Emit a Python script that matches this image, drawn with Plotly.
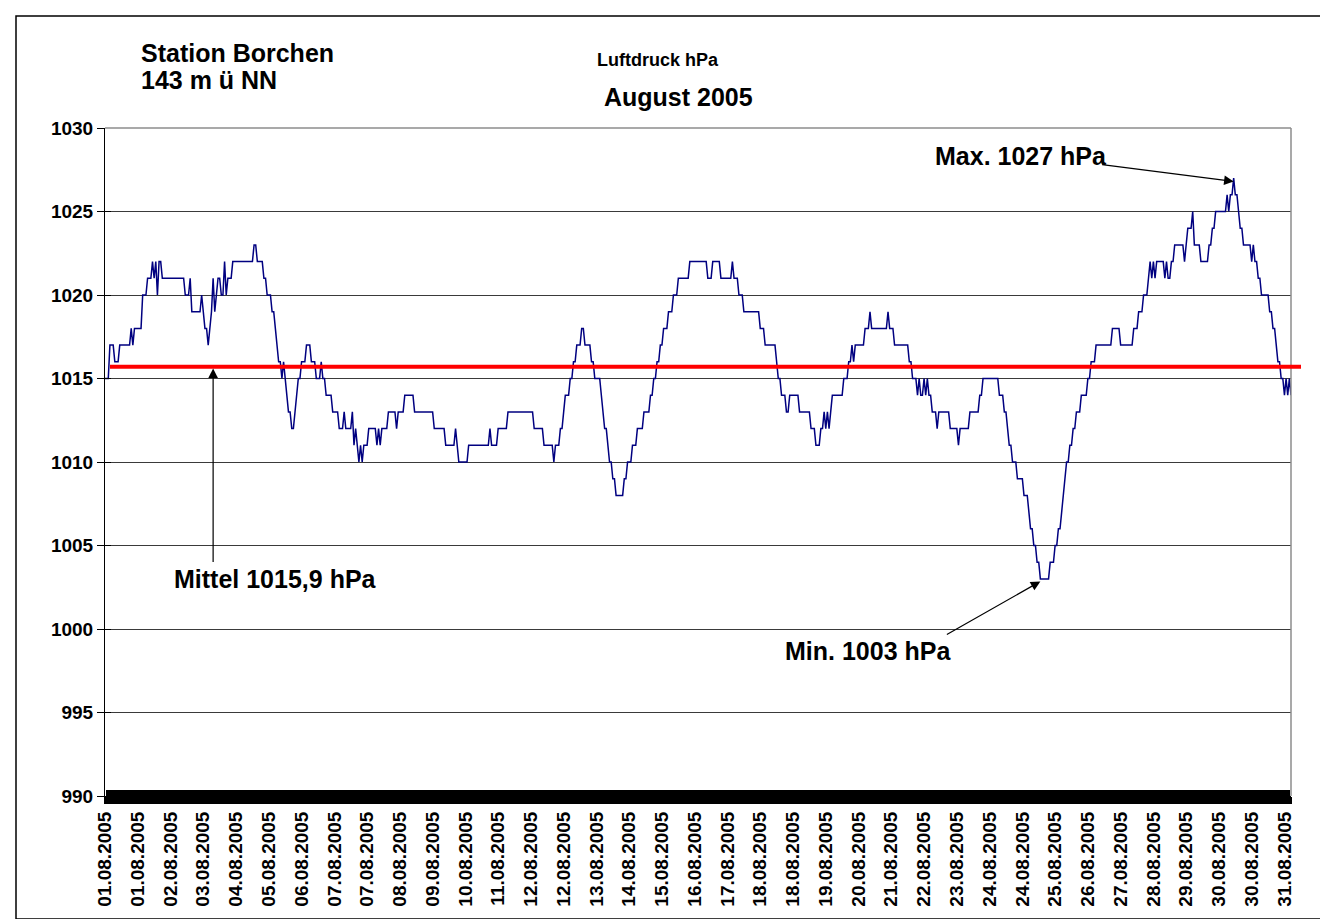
import numpy as np
import plotly.graph_objects as go

# ---------------- data ----------------
n_points = 725  # number of readings (categories)

# pressure readings, stored as change points: reading index where a new level starts, and that level (hPa)
change_idx = [0, 3, 6, 9, 16, 17, 18, 23, 26, 29, 30, 31, 32, 33, 35, 49, 52, 53, 59, 60,
              61, 63, 64, 65, 66, 67, 68, 69, 71, 73, 74, 75, 78, 91, 93, 97, 99, 102, 104, 105,
              106, 108, 109, 110, 111, 112, 114, 116, 117, 118, 120, 123, 126, 129, 132, 133, 135, 139, 143, 146,
              147, 151, 152, 153, 154, 155, 156, 157, 158, 161, 166, 167, 168, 169, 173, 178, 179, 183, 189, 201,
              208, 214, 215, 216, 222, 235, 236, 240, 246, 262, 268, 274, 275, 278, 280, 281, 284, 286, 288, 291,
              293, 297, 299, 303, 304, 305, 307, 308, 310, 312, 317, 319, 322, 325, 329, 333, 335, 337, 339, 341,
              344, 347, 350, 357, 368, 371, 376, 383, 384, 387, 390, 400, 403, 410, 411, 413, 416, 418, 424, 431,
              434, 437, 439, 440, 441, 442, 443, 444, 451, 454, 456, 457, 458, 464, 467, 468, 478, 479, 482, 491,
              493, 496, 497, 498, 500, 501, 502, 503, 505, 508, 509, 516, 521, 522, 528, 534, 536, 546, 549, 551,
              552, 554, 557, 561, 564, 565, 567, 569, 571, 577, 580, 582, 584, 585, 586, 587, 589, 591, 593, 596,
              600, 602, 605, 615, 620, 628, 631, 634, 637, 638, 639, 640, 641, 642, 647, 648, 649, 651, 653, 659,
              660, 661, 664, 665, 669, 674, 676, 678, 685, 686, 687, 689, 690, 692, 693, 695, 700, 701, 702, 704,
              706, 711, 713, 715, 716, 718, 720, 721, 722, 723, 724]
change_val = [1015, 1017, 1016, 1017, 1018, 1017, 1018, 1020, 1021, 1022, 1021, 1022, 1020, 1022, 1021, 1020, 1021, 1019, 1020, 1019,
              1018, 1017, 1018, 1019, 1021, 1019, 1020, 1021, 1020, 1022, 1020, 1021, 1022, 1023, 1022, 1021, 1020, 1019, 1018, 1017,
              1016, 1015, 1016, 1015, 1014, 1013, 1012, 1013, 1014, 1015, 1016, 1017, 1016, 1015, 1016, 1015, 1014, 1013, 1012, 1013,
              1012, 1013, 1011, 1012, 1011, 1010, 1011, 1010, 1011, 1012, 1011, 1012, 1011, 1012, 1013, 1012, 1013, 1014, 1013, 1012,
              1011, 1012, 1011, 1010, 1011, 1012, 1011, 1012, 1013, 1012, 1011, 1010, 1011, 1012, 1013, 1014, 1015, 1016, 1017, 1018,
              1017, 1016, 1015, 1014, 1013, 1012, 1011, 1010, 1009, 1008, 1009, 1010, 1011, 1012, 1013, 1014, 1015, 1016, 1017, 1018,
              1019, 1020, 1021, 1022, 1021, 1022, 1021, 1022, 1021, 1020, 1019, 1018, 1017, 1016, 1015, 1014, 1013, 1014, 1013, 1012,
              1011, 1012, 1013, 1012, 1013, 1012, 1013, 1014, 1015, 1016, 1017, 1016, 1017, 1018, 1019, 1018, 1019, 1018, 1017, 1016,
              1015, 1014, 1015, 1014, 1015, 1014, 1015, 1014, 1013, 1012, 1013, 1012, 1011, 1012, 1013, 1014, 1015, 1014, 1013, 1012,
              1011, 1010, 1009, 1008, 1007, 1006, 1005, 1004, 1003, 1004, 1005, 1006, 1007, 1008, 1009, 1010, 1011, 1012, 1013, 1014,
              1015, 1016, 1017, 1018, 1017, 1018, 1019, 1020, 1021, 1022, 1021, 1022, 1021, 1022, 1021, 1022, 1021, 1022, 1023, 1022,
              1023, 1024, 1025, 1023, 1022, 1023, 1024, 1025, 1026, 1025, 1026, 1027, 1026, 1025, 1024, 1023, 1022, 1023, 1022, 1021,
              1020, 1019, 1018, 1017, 1016, 1015, 1014, 1015, 1014, 1015, 1014]

label_step = 20
date_labels = ["01.08.2005", "01.08.2005", "02.08.2005", "03.08.2005", "04.08.2005", "05.08.2005",
               "06.08.2005", "07.08.2005", "07.08.2005", "08.08.2005", "09.08.2005", "10.08.2005",
               "11.08.2005", "12.08.2005", "12.08.2005", "13.08.2005", "14.08.2005", "15.08.2005",
               "16.08.2005", "17.08.2005", "18.08.2005", "18.08.2005", "19.08.2005", "20.08.2005",
               "21.08.2005", "22.08.2005", "23.08.2005", "24.08.2005", "24.08.2005", "25.08.2005",
               "26.08.2005", "27.08.2005", "28.08.2005", "29.08.2005", "30.08.2005", "30.08.2005",
               "31.08.2005"]

y_ticks = [990, 995, 1000, 1005, 1010, 1015, 1020, 1025, 1030]
mean_line_value = 1015.7      # where the red mean line is drawn
mean_text = "Mittel 1015,9 hPa"
mean_arrow_idx = 66           # reading index at which the mean arrow points

# ---------------- expand readings ----------------
values = np.empty(n_points)
bounds = change_idx + [n_points]
for k, v in enumerate(change_val):
    values[bounds[k]:bounds[k + 1]] = v
idx = np.arange(n_points)
i_max = int(np.argmax(values))
i_min = int(np.argmin(values))

# ---------------- layout helpers ----------------
W, H = 1328, 919
L, R, T, B = 97, 45, 120, 131
PW, PH = W - L - R, H - T - B

def px(x):
    return (x - L) / PW

def py(y):
    return (H - B - y) / PH

FONT = "Liberation Sans"

fig = go.Figure()
fig.add_trace(go.Scatter(x=idx, y=values, mode="lines",
                         line=dict(color="#000080", width=1.5),
                         showlegend=False, hoverinfo="skip"))
# empty trace to activate overlay axes (for crossing tick marks)
fig.add_trace(go.Scatter(x=[None], y=[None], xaxis="x2", yaxis="y2",
                         showlegend=False, hoverinfo="skip"))

tickfont = dict(family=FONT, size=19, color="black", weight="bold")

fig.update_layout(
    width=W, height=H,
    margin=dict(l=L, r=R, t=T, b=B, pad=0),
    paper_bgcolor="white", plot_bgcolor="white",
    showlegend=False,
    xaxis=dict(range=[0, n_points - 1], tickmode="array",
               tickvals=[k * label_step for k in range(len(date_labels))],
               ticktext=date_labels, tickangle=-90, tickfont=tickfont,
               showgrid=False, zeroline=False,
               showline=True, linecolor="black", linewidth=1,
               ticks="outside", ticklen=7, tickwidth=2, tickcolor="black",
               minor=dict(tickmode="linear", tick0=0, dtick=1, ticks="outside",
                          ticklen=7, tickwidth=2, tickcolor="black", showgrid=False)),
    xaxis2=dict(range=[0, n_points - 1], overlaying="x", side="bottom",
                showticklabels=False, showgrid=False, zeroline=False, showline=False,
                tickmode="linear", tick0=0, dtick=1, ticks="inside", ticklen=6,
                tickwidth=2, tickcolor="black"),
    yaxis=dict(range=[990, 1030], tickmode="array", tickvals=y_ticks,
               tickfont=tickfont, showgrid=True, gridcolor="#3a3a3a", gridwidth=1,
               zeroline=False, showline=True, linecolor="black", linewidth=1,
               ticks="outside", ticklen=7, tickwidth=1, tickcolor="black"),
    yaxis2=dict(range=[990, 1030], overlaying="y", side="left",
                tickmode="array", tickvals=y_ticks, showticklabels=False,
                showgrid=False, zeroline=False, showline=False,
                ticks="inside", ticklen=6, tickwidth=1, tickcolor="black"),
)

shapes = [
    # outer frame
    dict(type="rect", xref="paper", yref="paper", x0=px(8), x1=px(1319), y0=py(911), y1=py(8),
         line=dict(color="black", width=1.5), fillcolor="rgba(0,0,0,0)", layer="below"),
    # top and right plot border (grey)
    dict(type="line", xref="paper", yref="paper", x0=0, x1=1, y0=1, y1=1,
         line=dict(color="#8c8c8c", width=1.5), layer="above"),
    dict(type="line", xref="paper", yref="paper", x0=1, x1=1, y0=0, y1=1,
         line=dict(color="#8c8c8c", width=1.5), layer="above"),
    # mean line
    dict(type="line", xref="paper", yref="y", x0=px(102), x1=px(1293),
         y0=mean_line_value, y1=mean_line_value,
         line=dict(color="#ff0000", width=4), layer="above"),
]
fig.update_layout(shapes=shapes)

big = dict(family=FONT, size=25, color="black", weight="bold")
annotations = [
    dict(text="Station Borchen", xref="paper", yref="paper", x=px(131), y=py(45),
         xanchor="left", yanchor="middle", showarrow=False, font=big),
    dict(text="143 m ü NN", xref="paper", yref="paper", x=px(131), y=py(72),
         xanchor="left", yanchor="middle", showarrow=False, font=big),
    dict(text="Luftdruck hPa", xref="paper", yref="paper", x=px(650), y=py(52),
         xanchor="center", yanchor="middle", showarrow=False,
         font=dict(family=FONT, size=18, color="black", weight="bold")),
    dict(text="August 2005", xref="paper", yref="paper", x=px(670), y=py(89),
         xanchor="center", yanchor="middle", showarrow=False, font=big),
    # max
    dict(text="Max. 1027 hPa", xref="paper", yref="paper", x=px(925), y=py(148),
         xanchor="left", yanchor="middle", showarrow=False, font=big),
    dict(text="", x=i_max, y=values[i_max] - 0.2, xref="x", yref="y",
         showarrow=True, ax=-133, ay=-17, arrowhead=2, arrowsize=1.6,
         arrowwidth=1.2, arrowcolor="black", standoff=0),
    # min
    dict(text="Min. 1003 hPa", xref="paper", yref="paper", x=px(775), y=py(643),
         xanchor="left", yanchor="middle", showarrow=False, font=big),
    dict(text="", x=i_min, y=values[i_min] - 0.15, xref="x", yref="y",
         showarrow=True, ax=-95, ay=54, arrowhead=2, arrowsize=1.6,
         arrowwidth=1.2, arrowcolor="black", standoff=0),
    # mean
    dict(text=mean_text, xref="paper", yref="paper", x=px(164), y=py(571),
         xanchor="left", yanchor="middle", showarrow=False, font=big),
    dict(text="", x=mean_arrow_idx, y=mean_line_value - 0.1, xref="x", yref="y",
         showarrow=True, ax=0, ay=195, arrowhead=2, arrowsize=1.6,
         arrowwidth=1.2, arrowcolor="black", standoff=0),
]
fig.update_layout(annotations=annotations)

fig.write_html("out.html")
